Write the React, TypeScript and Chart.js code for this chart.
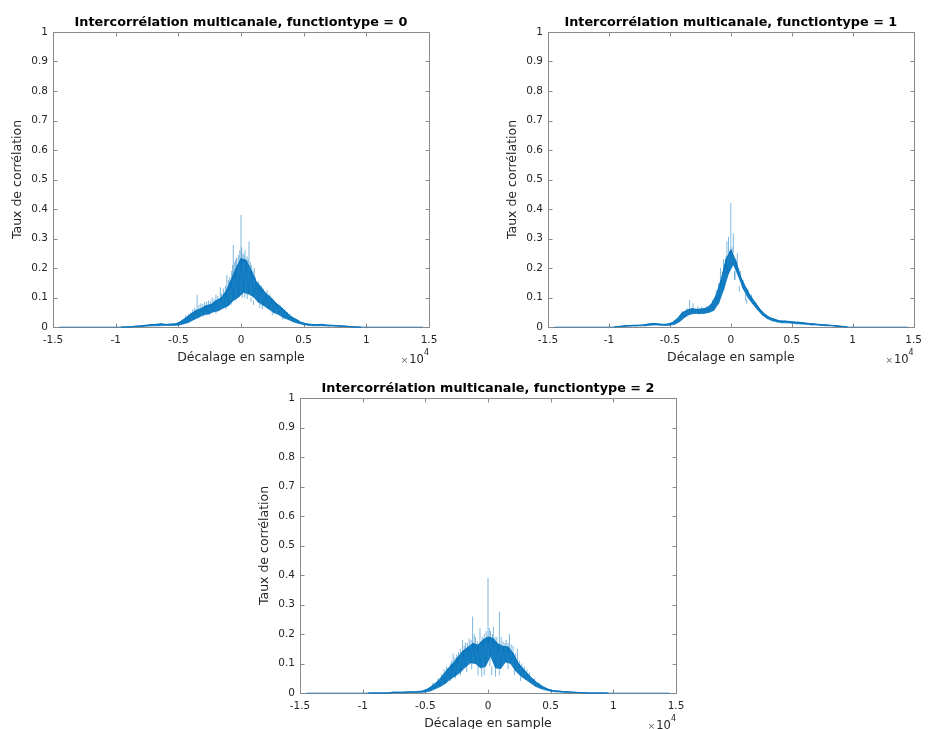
import React, { useEffect, useRef } from "react";
import { Chart, registerables } from "chart.js";

Chart.register(...registerables);

const CANVAS_W = 929;
const CANVAS_H = 729;

// Lag axis (samples) shared by the three cross-correlation curves
const lags = [
  -14500, -9600, -9400, -9200, -9000, -8800, -8600, -8400, -8200, -8000, -7800,
  -7600, -7400, -7200, -7000, -6800, -6600, -6400, -6200, -6000, -5800, -5600,
  -5400, -5200, -5000, -4800, -4600, -4400, -4200, -4000, -3800, -3600, -3400,
  -3200, -3000, -2800, -2600, -2400, -2200, -2000, -1800, -1600, -1400, -1200,
  -1000, -800, -600, -400, -200, 0, 200, 400, 600, 800, 1000, 1200, 1400, 1600,
  1800, 2000, 2200, 2400, 2600, 2800, 3000, 3200, 3400, 3600, 3800, 4000, 4200,
  4400, 4600, 4800, 5000, 5200, 5400, 5600, 5800, 6000, 6200, 6400, 6600, 6800,
  7000, 7200, 7400, 7600, 7800, 8000, 8200, 8400, 8600, 8800, 9000, 9200, 9400,
  9600, 14500,
];

// functiontype = 0 (samples alternate between the upper and lower edge of the noisy band)
const corr0 = [
  0,
  0, 0, 0, 0, 0.001, 0.001, 0.003, 0.001, 0.004, 0.002,
  0.006, 0.003, 0.008, 0.004, 0.009, 0.004, 0.011, 0.005, 0.009, 0.005,
  0.01, 0.005, 0.011, 0.006, 0.019, 0.01, 0.031, 0.015, 0.044, 0.024,
  0.056, 0.032, 0.062, 0.041, 0.072, 0.044, 0.076, 0.051, 0.089, 0.055,
  0.098, 0.064, 0.121, 0.072, 0.158, 0.09, 0.198, 0.101, 0.232, 0.117,
  0.226, 0.112, 0.193, 0.102, 0.155, 0.083, 0.134, 0.073, 0.112, 0.061,
  0.099, 0.049, 0.08, 0.042, 0.067, 0.031, 0.051, 0.025, 0.035, 0.017,
  0.026, 0.012, 0.016, 0.008, 0.011, 0.005, 0.009, 0.004, 0.008, 0.004,
  0.009, 0.004, 0.007, 0.003, 0.006, 0.003, 0.005, 0.002, 0.004, 0.002,
  0.003, 0.001, 0.001, 0, 0, 0, 0,
  0,
];
// isolated excursions above / below the band: lag, start value, end value
const spikeLags0 = [
  -4400, -4000, -3700, -3500, -3200, -2900, -2600, -2300, -2000, -1650, -1400,
  -1130, -900, -665, -615, -420, -210, 0, 150, 320, 480, 640, 850, 1060, 1300,
  1500, 1800, 2080, 2300, 2530, 2800, 3100, 3500, 3900,
  -2500, -800, 100, 500, 1000, 1700,
  -4700, -4200, -3850, -3350, -3050, -2750, -2450, -2150, -1850, -1550, -1250,
  -1000, -750, -500, -350, -100, 50, 250, 560, 750, 950, 1150, 1400, 1650, 1950,
  2200, 2650, 2950, 3300, 3700, 4100, 4500,
  -3000, -2000, -1200, -400, 300, 800, 1500, 2500, 3300,
];
const spikeBase0 = [
  0.025, 0.035, 0.045, 0.05, 0.055, 0.06, 0.065, 0.07, 0.08, 0.09, 0.1,
  0.11, 0.13, 0.15, 0.16, 0.18, 0.2, 0.22, 0.22, 0.22, 0.21, 0.2, 0.18, 0.16, 0.14,
  0.12, 0.11, 0.1, 0.09, 0.085, 0.07, 0.06, 0.045, 0.03,
  0.04, 0.075, 0.1, 0.095, 0.075, 0.06,
  0.012, 0.03, 0.04, 0.05, 0.055, 0.06, 0.065, 0.07, 0.08, 0.09, 0.1,
  0.12, 0.14, 0.17, 0.19, 0.21, 0.21, 0.21, 0.2, 0.18, 0.16, 0.15, 0.13, 0.12, 0.1,
  0.095, 0.075, 0.065, 0.05, 0.04, 0.025, 0.015,
  0.035, 0.045, 0.06, 0.09, 0.1, 0.085, 0.065, 0.04, 0.025,
];
const spikeTop0 = [
  0.04, 0.05, 0.065, 0.11, 0.08, 0.085, 0.09, 0.1, 0.11, 0.135, 0.13,
  0.176, 0.17, 0.21, 0.278, 0.23, 0.244, 0.38, 0.25, 0.26, 0.24, 0.29, 0.21, 0.2, 0.15,
  0.145, 0.13, 0.125, 0.11, 0.097, 0.085, 0.075, 0.06, 0.045,
  0.05, 0.09, 0.12, 0.115, 0.09, 0.075,
  0.025, 0.045, 0.06, 0.075, 0.078, 0.085, 0.088, 0.095, 0.105, 0.115, 0.14,
  0.16, 0.19, 0.22, 0.235, 0.26, 0.27, 0.245, 0.23, 0.22, 0.19, 0.17, 0.155, 0.14, 0.12,
  0.11, 0.09, 0.078, 0.065, 0.05, 0.035, 0.025,
  0.045, 0.056, 0.075, 0.103, 0.115, 0.1, 0.078, 0.05, 0.032,
];

// functiontype = 1
const corr1 = [
  0,
  0, 0.001, 0.002, 0.001, 0.004, 0.002, 0.005, 0.003, 0.006, 0.003,
  0.006, 0.004, 0.007, 0.004, 0.01, 0.006, 0.012, 0.007, 0.011, 0.006,
  0.009, 0.005, 0.01, 0.006, 0.015, 0.009, 0.028, 0.018, 0.048, 0.032,
  0.057, 0.042, 0.062, 0.046, 0.06, 0.045, 0.061, 0.046, 0.064, 0.049,
  0.077, 0.056, 0.108, 0.08, 0.16, 0.125, 0.228, 0.18, 0.262, 0.212,
  0.225, 0.175, 0.17, 0.13, 0.136, 0.1, 0.106, 0.078, 0.083, 0.058,
  0.06, 0.04, 0.043, 0.028, 0.032, 0.021, 0.026, 0.017, 0.021, 0.014,
  0.02, 0.014, 0.019, 0.013, 0.017, 0.011, 0.016, 0.01, 0.014, 0.009,
  0.012, 0.007, 0.011, 0.007, 0.009, 0.005, 0.008, 0.004, 0.007, 0.004,
  0.005, 0.002, 0.004, 0.001, 0.002, 0.001, 0,
  0,
];
const spikeLags1 = [
  -3380, -3100, -2700, -1500, -1200, -850, -600, -320, -190, 0, 210, 530, 800,
  1010, 1400, 1700, 2100, -700, 350, 1200,
  -4000, -3600, -2400, -2000, -1000, -400, 100, 400, 650, 1000, 1600, 2400, 2800,
  3500, 4500, 5500,
  -300, 300, 700, 1300,
];
const spikeBase1 = [
  0.06, 0.06, 0.055, 0.07, 0.09, 0.14, 0.18, 0.23, 0.25, 0.25, 0.25, 0.2, 0.16,
  0.14, 0.11, 0.09, 0.07, 0.12, 0.16, 0.09,
  0.04, 0.05, 0.055, 0.058, 0.12, 0.2, 0.24, 0.2, 0.17, 0.13, 0.09, 0.05, 0.035,
  0.022, 0.017, 0.013,
  0.17, 0.16, 0.12, 0.08,
];
const spikeTop1 = [
  0.092, 0.08, 0.07, 0.09, 0.125, 0.2, 0.23, 0.29, 0.306, 0.42, 0.318, 0.25, 0.19,
  0.16, 0.13, 0.11, 0.08, 0.15, 0.19, 0.11,
  0.055, 0.065, 0.07, 0.072, 0.15, 0.24, 0.27, 0.23, 0.2, 0.15, 0.105, 0.06, 0.045,
  0.03, 0.024, 0.019,
  0.2, 0.19, 0.14, 0.095,
];

// functiontype = 2
const corr2 = [
  0,
  0, 0, 0, 0, 0, 0, 0, 0, 0, 0.001,
  0.003, 0.001, 0.003, 0.001, 0.003, 0.001, 0.004, 0.002, 0.004, 0.002,
  0.005, 0.002, 0.007, 0.003, 0.014, 0.007, 0.026, 0.014, 0.04, 0.022,
  0.06, 0.032, 0.082, 0.047, 0.1, 0.058, 0.122, 0.07, 0.142, 0.088,
  0.155, 0.102, 0.168, 0.1, 0.162, 0.085, 0.18, 0.09, 0.19, 0.125,
  0.185, 0.085, 0.166, 0.082, 0.158, 0.105, 0.156, 0.1, 0.135, 0.075,
  0.102, 0.058, 0.082, 0.046, 0.063, 0.034, 0.046, 0.022, 0.032, 0.015,
  0.021, 0.01, 0.013, 0.006, 0.008, 0.004, 0.007, 0.003, 0.005, 0.002,
  0.004, 0.002, 0.003, 0.001, 0.002, 0.001, 0.001, 0, 0, 0,
  0, 0, 0, 0, 0, 0, 0,
  0,
];
const spikeLags2 = [
  -3500, -3000, -2780, -2500, -2200, -2030, -1800, -1500, -1230, -1000, -640,
  -300, 0, 200, 430, 700, 910, 1200, 1450, 1710, 2000, 2350, 2700, 3100,
  -800, -500, 300, 600, -2200, 2100,
  -4400, -4000, -3700, -3300, -2900, -2650, -2350, -1900, -1650, -1350, -1100,
  -850, -450, -150, 100, 350, 560, 1050, 1350, 1600, 1850, 2200, 2500, 2900,
  3300, 3700, 4100,
  -3000, -2600, -1700, -1300, -300, 150, 900, 1600, 2600,
];
const spikeBase2 = [
  0.06, 0.08, 0.09, 0.1, 0.12, 0.12, 0.14, 0.14, 0.15, 0.15, 0.15,
  0.17, 0.17, 0.17, 0.17, 0.15, 0.15, 0.15, 0.15, 0.14, 0.12, 0.1, 0.08, 0.06,
  0.06, 0.055, 0.06, 0.055, 0.06, 0.06,
  0.02, 0.03, 0.045, 0.06, 0.075, 0.09, 0.1, 0.12, 0.13, 0.14, 0.145,
  0.14, 0.16, 0.17, 0.17, 0.17, 0.16, 0.15, 0.14, 0.14, 0.13, 0.1, 0.085, 0.07,
  0.05, 0.035, 0.025,
  0.04, 0.05, 0.07, 0.08, 0.06, 0.09, 0.06, 0.08, 0.04,
];
const spikeTop2 = [
  0.08, 0.1, 0.134, 0.13, 0.15, 0.18, 0.17, 0.185, 0.259, 0.19, 0.22,
  0.2, 0.39, 0.21, 0.225, 0.19, 0.276, 0.175, 0.18, 0.2, 0.16, 0.15, 0.1, 0.08,
  0.1, 0.09, 0.09, 0.085, 0.08, 0.08,
  0.035, 0.05, 0.065, 0.09, 0.11, 0.12, 0.14, 0.16, 0.17, 0.18, 0.2,
  0.175, 0.19, 0.21, 0.22, 0.2, 0.19, 0.19, 0.17, 0.17, 0.165, 0.135, 0.11, 0.09,
  0.07, 0.05, 0.035,
  0.055, 0.065, 0.1, 0.11, 0.09, 0.12, 0.08, 0.11, 0.055,
];

const xTickValues = [-15000, -10000, -5000, 0, 5000, 10000, 15000];
const xTickLabels = ["-1.5", "-1", "-0.5", "0", "0.5", "1", "1.5"];
const yTickValues = [0, 0.1, 0.2, 0.3, 0.4, 0.5, 0.6, 0.7, 0.8, 0.9, 1];
const yTickLabels = ["0", "0.1", "0.2", "0.3", "0.4", "0.5", "0.6", "0.7", "0.8", "0.9", "1"];

const titles = [
  "Intercorrélation multicanale, functiontype = 0",
  "Intercorrélation multicanale, functiontype = 1",
  "Intercorrélation multicanale, functiontype = 2",
];
const xLabel = "Décalage en sample";
const yLabel = "Taux de corrélation";

const FONT = "'DejaVu Sans', sans-serif";
const LINE_BLUE = "#0072BD";

type Area = { left: number; top: number; right: number; bottom: number };

const panels = [
  { title: titles[0], values: corr0, sx: spikeLags0, sb: spikeBase0, st: spikeTop0, area: { left: 53, top: 32, right: 429, bottom: 327 } },
  { title: titles[1], values: corr1, sx: spikeLags1, sb: spikeBase1, st: spikeTop1, area: { left: 548, top: 32, right: 923, bottom: 327 } },
  { title: titles[2], values: corr2, sx: spikeLags2, sb: spikeBase2, st: spikeTop2, area: { left: 300, top: 398, right: 676, bottom: 693 } },
];

const Y_AXIS_W = 40;
const X_AXIS_H = 30;

function framePlugin(title: string) {
  return {
    id: "matlabFrame",
    beforeDatasetsDraw(chart: any) {
      const { ctx, chartArea: a, scales } = chart;
      ctx.save();
      ctx.strokeStyle = "#8a8a8a";
      ctx.lineWidth = 1;
      const l = Math.round(a.left) + 0.5;
      const t = Math.round(a.top) + 0.5;
      const r = Math.round(a.right) + 0.5;
      const b = Math.round(a.bottom) + 0.5;
      ctx.beginPath();
      ctx.rect(l, t, r - l, b - t);
      const tick = 4;
      for (const v of xTickValues) {
        const px = Math.round(scales.x.getPixelForValue(v)) + 0.5;
        ctx.moveTo(px, b);
        ctx.lineTo(px, b - tick);
        ctx.moveTo(px, t);
        ctx.lineTo(px, t + tick);
      }
      for (const v of yTickValues) {
        const py = Math.round(scales.y.getPixelForValue(v)) + 0.5;
        ctx.moveTo(l, py);
        ctx.lineTo(l + tick, py);
        ctx.moveTo(r, py);
        ctx.lineTo(r - tick, py);
      }
      ctx.stroke();
      ctx.restore();
    },
    afterDraw(chart: any) {
      const { ctx, chartArea: a } = chart;
      const cx = (a.left + a.right) / 2;
      const cy = (a.top + a.bottom) / 2;
      ctx.save();
      ctx.fillStyle = "#000000";
      ctx.font = `bold 12.8px ${FONT}`;
      ctx.textAlign = "center";
      ctx.textBaseline = "alphabetic";
      ctx.fillText(title, cx, a.top - 6.3);
      ctx.fillStyle = "#262626";
      ctx.font = `12.5px ${FONT}`;
      ctx.fillText(xLabel, cx, a.bottom + 34);
      ctx.save();
      ctx.translate(a.left - 32.25, cy);
      ctx.rotate(-Math.PI / 2);
      ctx.fillText(yLabel, 0, 0);
      ctx.restore();
      ctx.textAlign = "right";
      ctx.font = `8px ${FONT}`;
      const w4 = ctx.measureText("4").width;
      ctx.fillText("4", a.right, a.bottom + 28);
      ctx.font = `11.5px ${FONT}`;
      ctx.fillText("10", a.right - w4, a.bottom + 36.3);
      const w10 = ctx.measureText("10").width;
      ctx.fillStyle = "#6a6a6a";
      ctx.font = `9px ${FONT}`;
      ctx.fillText("×", a.right - w4 - w10 - 1, a.bottom + 35.5);
      ctx.restore();
    },
  };
}

function Panel({ p }: { p: (typeof panels)[number] }) {
  const ref = useRef<HTMLCanvasElement | null>(null);
  useEffect(() => {
    if (!ref.current) return;
    const area: Area = p.area;
    const last = lags.length - 1;
    const zigzag = lags.map((x, i) => ({ x, y: p.values[i] }));
    // upper edge = even samples, lower edge = odd samples of the alternating series (tails excluded)
    const upper = zigzag.filter((_, i) => i !== 0 && i !== last && (i - 1) % 2 === 0);
    const lower = zigzag.filter((_, i) => i !== 0 && i !== last && (i - 1) % 2 === 1);
    const spikeData: { x: number; y: number | null }[] = [];
    p.sx.forEach((x, i) => {
      spikeData.push({ x, y: p.sb[i] });
      spikeData.push({ x, y: p.st[i] });
      spikeData.push({ x, y: null });
    });
    const common = { pointRadius: 0, tension: 0, clip: false as any };
    const chart = new Chart(ref.current, {
      type: "line",
      data: {
        datasets: [
          { ...common, data: zigzag, borderColor: "rgba(0,114,189,0.55)", borderWidth: 1, fill: false },
          { ...common, data: upper, borderColor: LINE_BLUE, borderWidth: 1, fill: "+1", backgroundColor: "rgba(0,114,189,0.9)" },
          { ...common, data: lower, borderColor: "rgba(0,114,189,0.6)", borderWidth: 1, fill: false },
          { ...common, data: spikeData as any, borderColor: "rgba(0,114,189,0.5)", borderWidth: 1, spanGaps: false, fill: false },
        ],
      },
      options: {
        animation: false,
        responsive: false,
        maintainAspectRatio: false,
        devicePixelRatio: 1,
        parsing: false as any,
        events: [],
        layout: {
          padding: {
            left: area.left - Y_AXIS_W,
            right: CANVAS_W - area.right,
            top: area.top,
            bottom: CANVAS_H - area.bottom - X_AXIS_H,
          },
        },
        plugins: {
          legend: { display: false },
          title: { display: false },
          tooltip: { enabled: false },
        },
        scales: {
          x: {
            type: "linear",
            min: -15000,
            max: 15000,
            afterBuildTicks: (s: any) => {
              s.ticks = xTickValues.map((v) => ({ value: v }));
            },
            afterFit: (s: any) => {
              s.height = X_AXIS_H;
            },
            ticks: {
              autoSkip: false,
              maxRotation: 0,
              minRotation: 0,
              padding: 7,
              color: "#262626",
              font: { family: FONT, size: 10.5 },
              callback: (v: any) => xTickLabels[xTickValues.indexOf(Number(v))],
            },
            grid: { display: false, drawTicks: false },
            border: { display: false },
          },
          y: {
            type: "linear",
            min: 0,
            max: 1,
            afterBuildTicks: (s: any) => {
              s.ticks = yTickValues.map((v) => ({ value: v }));
            },
            afterFit: (s: any) => {
              s.width = Y_AXIS_W;
            },
            ticks: {
              autoSkip: false,
              padding: 5,
              color: "#262626",
              font: { family: FONT, size: 10.5 },
              callback: (v: any) => yTickLabels[yTickValues.indexOf(Number(v))],
            },
            grid: { display: false, drawTicks: false },
            border: { display: false },
          },
        },
      },
      plugins: [framePlugin(p.title)],
    } as any);
    return () => chart.destroy();
  }, [p]);
  return (
    <canvas
      ref={ref}
      width={CANVAS_W}
      height={CANVAS_H}
      style={{ position: "absolute", left: 0, top: 0, width: CANVAS_W, height: CANVAS_H }}
    />
  );
}

export default function App() {
  return (
    <div
      style={{
        position: "fixed",
        left: 0,
        top: 0,
        width: CANVAS_W,
        height: CANVAS_H,
        background: "#ffffff",
        overflow: "hidden",
      }}
    >
      {panels.map((p, i) => (
        <Panel key={i} p={p} />
      ))}
    </div>
  );
}
